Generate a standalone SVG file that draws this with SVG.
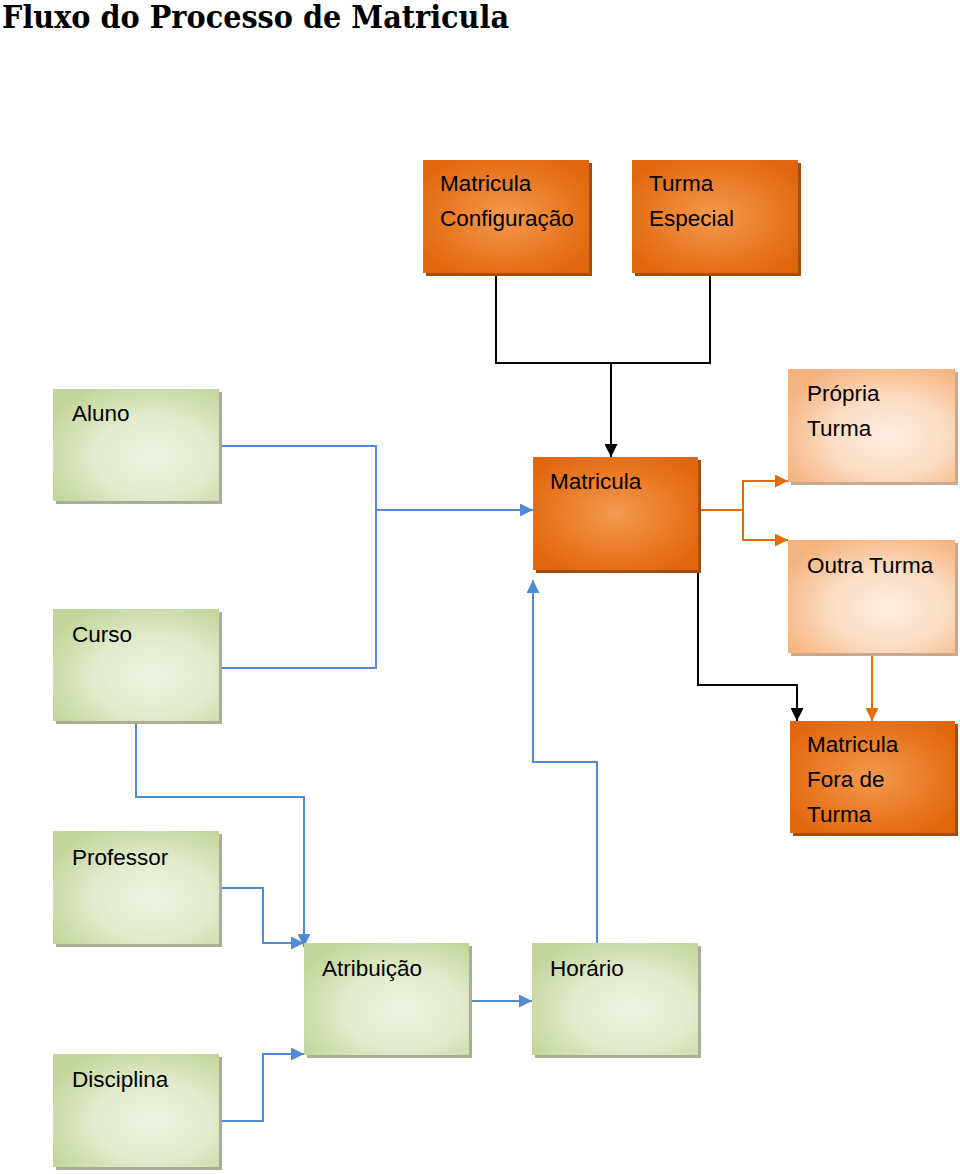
<svg xmlns="http://www.w3.org/2000/svg" width="960" height="1174" viewBox="0 0 960 1174">
<defs>
  <radialGradient id="gOr" cx="0.5" cy="0.5" r="0.6">
    <stop offset="0" stop-color="#F39A4F"/>
    <stop offset="0.6" stop-color="#EA7A25"/>
    <stop offset="1" stop-color="#E0670E"/>
  </radialGradient>
  <radialGradient id="gGr" cx="0.6" cy="0.6" r="0.7">
    <stop offset="0" stop-color="#EEF3E2"/>
    <stop offset="0.5" stop-color="#E2EBCD"/>
    <stop offset="1" stop-color="#C3D59A"/>
  </radialGradient>
  <radialGradient id="gPe" cx="0.6" cy="0.6" r="0.7">
    <stop offset="0" stop-color="#FDEEE2"/>
    <stop offset="0.5" stop-color="#FBDCC2"/>
    <stop offset="1" stop-color="#F6B27C"/>
  </radialGradient>
  <marker id="aBk" viewBox="0 0 10 10" refX="10" refY="5" markerWidth="13" markerHeight="13" markerUnits="userSpaceOnUse" orient="auto">
    <path d="M0,0 L10,5 L0,10 z" fill="#000"/>
  </marker>
  <marker id="aBl" viewBox="0 0 10 10" refX="10" refY="5" markerWidth="13" markerHeight="13" markerUnits="userSpaceOnUse" orient="auto">
    <path d="M0,0 L10,5 L0,10 z" fill="#4F8AD2"/>
  </marker>
  <marker id="aOr" viewBox="0 0 10 10" refX="10" refY="5" markerWidth="13" markerHeight="13" markerUnits="userSpaceOnUse" orient="auto">
    <path d="M0,0 L10,5 L0,10 z" fill="#E36C0A"/>
  </marker>
</defs>
<style>
  .t{font-family:"Liberation Sans",Arial,sans-serif;font-size:22.5px;fill:#000}
  .title{font-family:"DejaVu Serif","Liberation Serif",serif;font-weight:bold;font-size:31px;fill:#000}
  .or{fill:url(#gOr)}
  .gr{fill:url(#gGr)}
  .pe{fill:url(#gPe)}
  .sOr{fill:#A34E0C}
  .sGr{fill:#A8AE98}
  .sPe{fill:#C8A88E}
  .cBk{fill:none;stroke:#000;stroke-width:2}
  .cBl{fill:none;stroke:#4F8AD2;stroke-width:2}
  .cOr{fill:none;stroke:#E36C0A;stroke-width:2}
</style>
<rect width="960" height="1174" fill="#fff"/>
<text class="title" x="2" y="28" textLength="507" lengthAdjust="spacingAndGlyphs">Fluxo do Processo de Matricula</text>

<g id="connectors">
  <path class="cBk" d="M496,276 V363 H710 V276"/>
  <path class="cBk" d="M611,363 V457" marker-end="url(#aBk)"/>
  <path class="cBk" d="M698,573 V685 H797 V721" marker-end="url(#aBk)"/>
  <path class="cOr" d="M701,510 H743 V481 H788" marker-end="url(#aOr)"/>
  <path class="cOr" d="M743,510 V540 H788" marker-end="url(#aOr)"/>
  <path class="cOr" d="M872,656 V721" marker-end="url(#aOr)"/>
  <path class="cBl" d="M222,446 H376 V668 H222"/>
  <path class="cBl" d="M376,510 H533" marker-end="url(#aBl)"/>
  <path class="cBl" d="M136,724 V797 H304 V947" marker-end="url(#aBl)"/>
  <path class="cBl" d="M222,888 H263 V943 H304" marker-end="url(#aBl)"/>
  <path class="cBl" d="M222,1121 H263 V1054 H304" marker-end="url(#aBl)"/>
  <path class="cBl" d="M472,1001 H532" marker-end="url(#aBl)"/>
  <path class="cBl" d="M597,943 V762 H533 V580" marker-end="url(#aBl)"/>
</g>

<g id="n-matricula-config">
  <rect class="sOr" x="426" y="163" width="166" height="113"/>
  <rect class="or" x="423" y="160" width="166" height="113"/>
  <text class="t" x="440" y="191">Matricula</text>
  <text class="t" x="440" y="226">Configuração</text>
</g>
<g id="n-turma-especial">
  <rect class="sOr" x="635" y="163" width="166" height="113"/>
  <rect class="or" x="632" y="160" width="166" height="113"/>
  <text class="t" x="649" y="191">Turma</text>
  <text class="t" x="649" y="226">Especial</text>
</g>
<g id="n-aluno">
  <rect class="sGr" x="56" y="392" width="166" height="112"/>
  <rect class="gr" x="53" y="389" width="166" height="112"/>
  <text class="t" x="72" y="421">Aluno</text>
</g>
<g id="n-propria-turma">
  <rect class="sPe" x="791" y="372" width="167" height="113"/>
  <rect class="pe" x="788" y="369" width="167" height="113"/>
  <text class="t" x="807" y="401">Própria</text>
  <text class="t" x="807" y="436">Turma</text>
</g>
<g id="n-matricula">
  <rect class="sOr" x="536" y="460" width="165" height="113"/>
  <rect class="or" x="533" y="457" width="165" height="113"/>
  <text class="t" x="550" y="489">Matricula</text>
</g>
<g id="n-outra-turma">
  <rect class="sPe" x="791" y="543" width="167" height="113"/>
  <rect class="pe" x="788" y="540" width="167" height="113"/>
  <text class="t" x="807" y="573">Outra Turma</text>
</g>
<g id="n-curso">
  <rect class="sGr" x="56" y="612" width="166" height="112"/>
  <rect class="gr" x="53" y="609" width="166" height="112"/>
  <text class="t" x="72" y="642">Curso</text>
</g>
<g id="n-matricula-fora">
  <rect class="sOr" x="793" y="724" width="165" height="112"/>
  <rect class="or" x="790" y="721" width="165" height="112"/>
  <text class="t" x="807" y="752">Matricula</text>
  <text class="t" x="807" y="787">Fora de</text>
  <text class="t" x="807" y="822">Turma</text>
</g>
<g id="n-professor">
  <rect class="sGr" x="56" y="834" width="166" height="113"/>
  <rect class="gr" x="53" y="831" width="166" height="113"/>
  <text class="t" x="72" y="865">Professor</text>
</g>
<g id="n-atribuicao">
  <rect class="sGr" x="307" y="946" width="165" height="112"/>
  <rect class="gr" x="304" y="943" width="165" height="112"/>
  <text class="t" x="322" y="976">Atribuição</text>
</g>
<g id="n-horario">
  <rect class="sGr" x="535" y="946" width="166" height="112"/>
  <rect class="gr" x="532" y="943" width="166" height="112"/>
  <text class="t" x="550" y="976">Horário</text>
</g>
<g id="n-disciplina">
  <rect class="sGr" x="56" y="1057" width="166" height="113"/>
  <rect class="gr" x="53" y="1054" width="166" height="113"/>
  <text class="t" x="72" y="1087">Disciplina</text>
</g>
</svg>
